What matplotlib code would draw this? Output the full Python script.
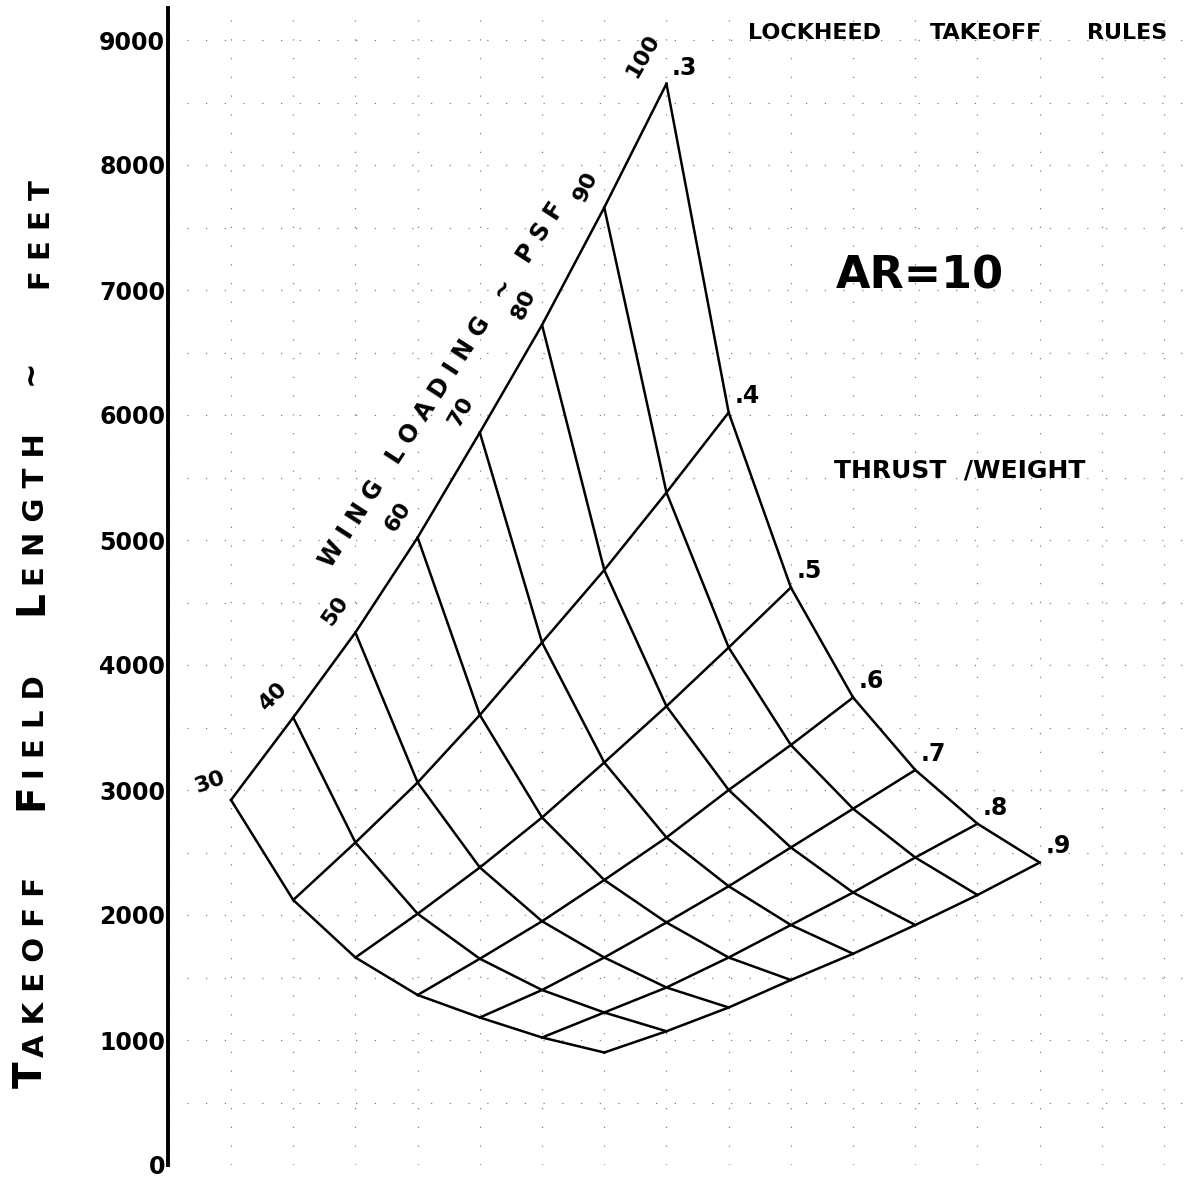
import matplotlib
matplotlib.use("Agg")
import matplotlib.pyplot as plt
import numpy as np

# carpet: takeoff field length (ft) vs wing loading (psf) and thrust/weight, AR = 10
wing_loading = [30, 40, 50, 60, 70, 80, 90, 100]
thrust_weight = [0.3, 0.4, 0.5, 0.6, 0.7, 0.8, 0.9]

tofl_tw03 = [2920, 3580, 4260, 5020, 5860, 6720, 7660, 8650]
tofl_tw04 = [2120, 2580, 3060, 3600, 4180, 4760, 5380, 6020]
tofl_tw05 = [1660, 2010, 2380, 2780, 3220, 3670, 4140, 4620]
tofl_tw06 = [1360, 1650, 1950, 2280, 2620, 3000, 3360, 3740]
tofl_tw07 = [1180, 1400, 1660, 1940, 2230, 2540, 2850, 3160]
tofl_tw08 = [1020, 1220, 1420, 1660, 1920, 2180, 2460, 2730]
tofl_tw09 = [900, 1070, 1260, 1480, 1690, 1920, 2160, 2420]

y_ticks = [0, 1000, 2000, 3000, 4000, 5000, 6000, 7000, 8000, 9000]

W, H = 1189, 1178


def fx(x):
    return x / W


def fy(y):
    return 1 - y / H


fig = plt.figure(figsize=(W / 100, H / 100), dpi=100)
fig.patch.set_facecolor("white")
ax = fig.add_axes([168 / W, 13 / H, 1021 / W, 1157.5 / H])
ax.set_xlim(-1.013, 15.4)
ax.set_ylim(0, 9260)

grid = np.array([tofl_tw03, tofl_tw04, tofl_tw05, tofl_tw06,
                 tofl_tw07, tofl_tw08, tofl_tw09])
n_tw, n_ws = grid.shape

# carpet lines (x offset = ws index + tw index)
for j in range(n_tw):
    ax.plot(np.arange(n_ws) + j, grid[j], color="black", lw=1.8,
            solid_joinstyle="round", zorder=3)
for i in range(n_ws):
    ax.plot(i + np.arange(n_tw), grid[:, i], color="black", lw=1.8,
            solid_joinstyle="round", zorder=3)

# wing loading labels along the top edge
ws_rot = [20, 45, 55, 57, 60, 65, 65, 60]
for i, ws in enumerate(wing_loading):
    ax.annotate(str(ws), xy=(i, grid[0, i]), xytext=(-2, 2),
                textcoords="offset points", rotation=ws_rot[i],
                ha="right", va="bottom", fontsize=16, fontweight="bold")

# thrust/weight labels along the right edge
for j, tw in enumerate(thrust_weight):
    ax.annotate(f"{tw:.1f}".lstrip("0"), xy=(n_ws - 1 + j, grid[j, -1]),
                xytext=(4, 3), textcoords="offset points",
                ha="left", va="bottom", fontsize=17, fontweight="bold")

# axes styling
for s in ["top", "right", "bottom"]:
    ax.spines[s].set_visible(False)
ax.spines["left"].set_linewidth(2.8)
ax.set_yticks(y_ticks)
ax.set_yticklabels([str(v) for v in y_ticks], fontsize=17, fontweight="bold")
ax.set_yticks(np.arange(500, 9001, 1000), minor=True)
ax.tick_params(axis="y", which="both", length=0, pad=2)
ax.set_xticks(np.arange(-1, 16))
ax.tick_params(axis="x", length=0, labelbottom=False)
ax.grid(True, which="both", color="0.5", lw=0.9, linestyle=(0, (1, 14)))
ax.set_axisbelow(True)

# hand-lettered axis title: big first letter + spaced rest
words = [("T", "A K E O F F", 1088), ("F", "I E L D", 810), ("L", "E N G T H", 615)]
for big, rest, ybot in words:
    b = fig.text(fx(50), fy(ybot), big, rotation=90, ha="right", va="bottom",
                 fontsize=28, fontweight="bold")
    ax.annotate(rest, xy=(1, 1), xycoords=b, xytext=(0, 3),
                textcoords="offset points", rotation=90, ha="right",
                va="bottom", fontsize=21, fontweight="bold",
                annotation_clip=False)
fig.text(fx(30), fy(372), "~", rotation=90, ha="center", va="center",
         fontsize=22, fontweight="bold")
fig.text(fx(56), fy(290), "F E E T", rotation=90, ha="right", va="bottom",
         fontsize=21, fontweight="bold")

# annotations
for word, xc in [("LOCKHEED", 815), ("TAKEOFF", 986), ("RULES", 1127)]:
    fig.text(fx(xc), fy(33), word, ha="center", va="center",
             fontsize=16, fontweight="bold")
fig.text(fx(920), fy(276), "AR=10", ha="center", va="center",
         fontsize=32, fontweight="bold")
fig.text(fx(960), fy(470), "THRUST  /WEIGHT", ha="center", va="center",
         fontsize=18, fontweight="bold")
fig.text(fx(442), fy(385), "W I N G   L O A D I N G   ~   P S F",
         rotation=57, rotation_mode="anchor", ha="center", va="center",
         fontsize=17, fontweight="bold")

fig.savefig("out.png", dpi=100, facecolor="white")
